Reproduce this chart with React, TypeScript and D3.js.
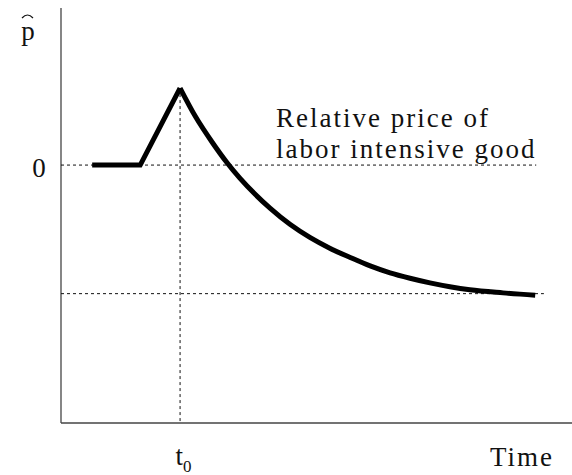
import React from 'react';
import * as d3 from 'd3';

// time axis in arbitrary units, p-hat in arbitrary units (0 = initial level)
const t0 = 2.33;
const riseTime = [0.61, 1.55, 2.33];
const riseValue = [0, 0, 1];
const decayTime = [2.33, 2.64, 2.955, 3.25, 3.5, 3.8, 4.09, 4.48, 4.87, 5.26, 5.66, 6.05, 6.44, 6.83, 7.22, 7.61, 8.0, 8.65, 9.28];
const decayValue = [1, 0.62, 0.3, 0.03, -0.17, -0.38, -0.56, -0.77, -0.94, -1.08, -1.2, -1.31, -1.4, -1.47, -1.53, -1.58, -1.62, -1.66, -1.69];
const longRunValue = -1.67;
const zeroLineEnd = 9.3;
const longRunLineEnd = 9.45;

const labelLines = ['Relative price of', 'labor intensive good'];

const width = 572;
const height = 475;

const App = () => {
  const x = d3.scaleLinear().domain([0, 10]).range([61, 572]);
  const y = d3.scaleLinear().domain([-3.35, 2.04]).range([423, 8]);

  const line = d3.line<[number, number]>()
    .x(d => x(d[0]))
    .y(d => y(d[1]));
  const curve = d3.line<[number, number]>()
    .x(d => x(d[0]))
    .y(d => y(d[1]))
    .curve(d3.curveMonotoneX);

  const risePts = riseTime.map((t, i) => [t, riseValue[i]] as [number, number]);
  const decayPts = decayTime.map((t, i) => [t, decayValue[i]] as [number, number]);

  const font = 'Liberation Serif, DejaVu Serif, Times, serif';
  const dash = '3,3';
  const ink = '#111';

  return (
    <svg
      width={width}
      height={height}
      viewBox={`0 0 ${width} ${height}`}
      style={{ position: 'absolute', left: 0, top: 0, background: '#fff' }}
    >
      {/* axes */}
      <line x1={x(0)} x2={x(0)} y1={y.range()[1]} y2={y.range()[0]} stroke="#444" strokeWidth={1.3} />
      <line x1={x(0)} x2={x(10)} y1={y.range()[0]} y2={y.range()[0]} stroke="#444" strokeWidth={1.3} />

      {/* reference lines */}
      <line x1={x(0)} x2={x(zeroLineEnd)} y1={y(0)} y2={y(0)} stroke={ink} strokeWidth={1} strokeDasharray={dash} />
      <line x1={x(0)} x2={x(longRunLineEnd)} y1={y(longRunValue)} y2={y(longRunValue)} stroke={ink} strokeWidth={1} strokeDasharray={dash} />
      <line x1={x(t0)} x2={x(t0)} y1={y(1)} y2={y.range()[0]} stroke={ink} strokeWidth={1} strokeDasharray={dash} />

      {/* price path */}
      <path d={line(risePts) || ''} fill="none" stroke="#000" strokeWidth={5} strokeLinejoin="miter" />
      <path d={curve(decayPts) || ''} fill="none" stroke="#000" strokeWidth={5} strokeLinejoin="miter" />

      {/* labels */}
      <g fontFamily={font} fill={ink}>
        <text x={28} y={40} fontSize={27} textAnchor="middle">p</text>
        <path d="M22,18 Q27.5,12 33,18" fill="none" stroke={ink} strokeWidth={1.2} />
        <text x={39} y={177} fontSize={27} textAnchor="middle">0</text>
        {labelLines.map((l, i) => (
          <text key={l} x={276} y={127 + i * 31} fontSize={27} letterSpacing={2}>{l}</text>
        ))}
        <text x={183} y={465} fontSize={27} textAnchor="end">t</text>
        <text x={183} y={472} fontSize={17}>0</text>
        <text x={490} y={466} fontSize={27} letterSpacing={2}>Time</text>
      </g>
    </svg>
  );
};

export default App;
